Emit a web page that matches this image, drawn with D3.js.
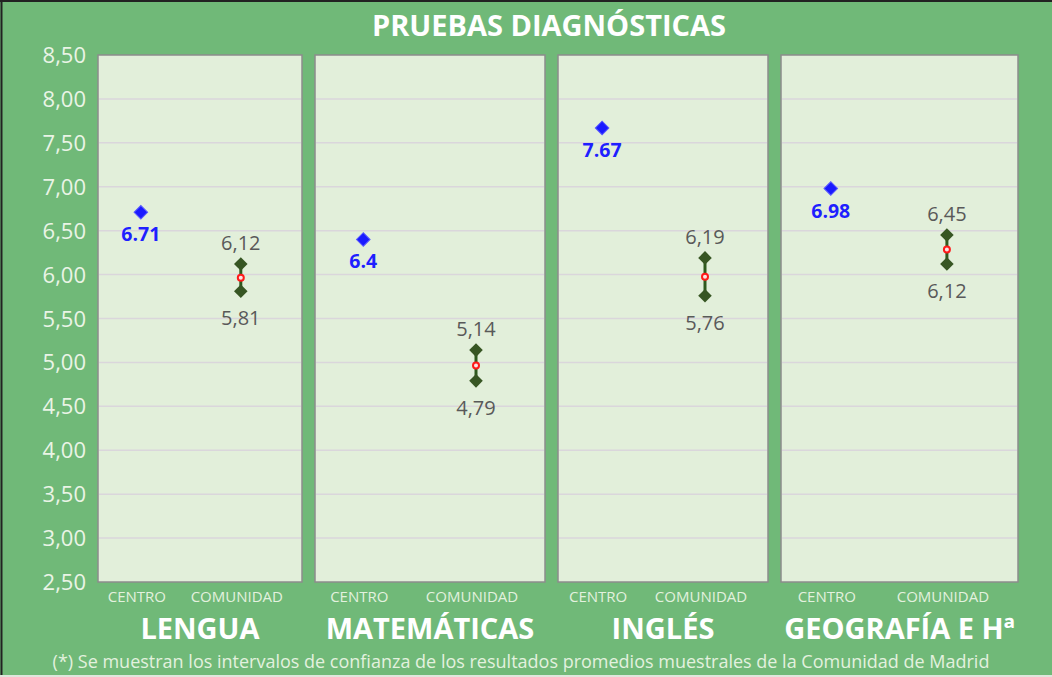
<!DOCTYPE html>
<html>
<head>
<meta charset="utf-8">
<script src="https://cdn.jsdelivr.net/npm/d3@7"></script>
<style>
body{margin:0;background:#fff;}
svg{display:block;font-family:"Open Sans","Noto Sans",sans-serif;}
</style>
</head>
<body>
<svg></svg>
<script>
//data
var subjects = ["LENGUA","MATEMÁTICAS","INGLÉS","GEOGRAFÍA E Hª"];
var groups = ["CENTRO","COMUNIDAD"];
var centro = [6.71,6.40,7.67,6.98];
var centroLabels = ["6.71","6.4","7.67","6.98"];
var comunidadHigh = [6.12,5.14,6.19,6.45];
var comunidadLow = [5.81,4.79,5.76,6.12];
var highLabels = ["6,12","5,14","6,19","6,45"];
var lowLabels = ["5,81","4,79","5,76","6,12"];
var yTicks = [2.5,3,3.5,4,4.5,5,5.5,6,6.5,7,7.5,8,8.5];

var screen = {width:1052,height:677}
var plot = {top:55,bottom:582}
//left/right edges of the four panels
var panelEdges = [[98,302],[315,545],[558,768],[781,1018]]

var svg = d3.select("svg")
    .attr("width",screen.width)
    .attr("height",screen.height)

var yScale = d3.scaleLinear()
    .domain([2.5,8.5])
    .range([plot.bottom,plot.top])

var diamond = d3.symbol().type(d3.symbolSquare).size(92)

//background
svg.append("rect")
    .attr("width",screen.width)
    .attr("height",screen.height)
    .attr("fill","#70b978")
svg.append("line")
    .attr("x1",0).attr("x2",screen.width).attr("y1",1).attr("y2",1)
    .attr("stroke","#222").attr("stroke-width",2)
svg.append("line")
    .attr("x1",1.5).attr("x2",1.5).attr("y1",0).attr("y2",screen.height)
    .attr("stroke","#222").attr("stroke-width",2)
svg.append("line")
    .attr("x1",0).attr("x2",screen.width).attr("y1",676).attr("y2",676)
    .attr("stroke","#dfe6dc").attr("stroke-width",2)

svg.append("text")
    .text("PRUEBAS DIAGNÓSTICAS")
    .attr("x",549).attr("y",36)
    .attr("text-anchor","middle")
    .attr("fill","#ffffff")
    .attr("font-weight","bold")
    .attr("font-size",29)

//y labels
svg.append("g").selectAll("text")
    .data(yTicks)
    .enter()
    .append("text")
    .text(function(d){return d3.format(".2f")(d).replace(".",",")})
    .attr("x",86)
    .attr("y",function(d){return yScale(d)+8})
    .attr("text-anchor","end")
    .attr("fill","#eaf4e6")
    .attr("font-size",22)

var drawPanel = function(i)
{
    var x0 = panelEdges[i][0], x1 = panelEdges[i][1], w = x1-x0
    var xScale = d3.scalePoint()
        .domain(groups)
        .range([x0+w*0.21,x0+w*0.70])
    var g = svg.append("g")

    g.append("rect")
        .attr("x",x0).attr("y",plot.top)
        .attr("width",w).attr("height",plot.bottom-plot.top)
        .attr("fill","#e2efda")
        .attr("stroke","#8c8c8c")
        .attr("stroke-width",1.5)

    g.selectAll(".grid")
        .data(yTicks.slice(1,-1))
        .enter()
        .append("line")
        .attr("x1",x0+1).attr("x2",x1-1)
        .attr("y1",function(d){return yScale(d)})
        .attr("y2",function(d){return yScale(d)})
        .attr("stroke","#dad6db")
        .attr("stroke-width",1.5)

    //category labels under the panel
    g.selectAll(".cat")
        .data(groups)
        .enter()
        .append("text")
        .text(function(d){return d})
        .attr("x",function(d){return xScale(d)-4})
        .attr("y",602)
        .attr("text-anchor","middle")
        .attr("fill","#e3f1df")
        .attr("font-size",15)

    g.append("text")
        .text(subjects[i])
        .attr("x",(x0+x1)/2)
        .attr("y",639)
        .attr("text-anchor","middle")
        .attr("fill","#ffffff")
        .attr("font-weight","bold")
        .attr("font-size",29)

    //centro point
    var cx = xScale("CENTRO")
    g.append("path")
        .attr("d",diamond)
        .attr("transform","translate("+cx+","+yScale(centro[i])+") rotate(45)")
        .attr("fill","#1a1aff")
        .attr("stroke","#5a5aff")
    g.append("text")
        .text(centroLabels[i])
        .attr("x",cx).attr("y",yScale(centro[i])+29)
        .attr("text-anchor","middle")
        .attr("fill","#1f1fff")
        .attr("font-weight","bold")
        .attr("font-size",19.5)

    //comunidad interval
    var mx = xScale("COMUNIDAD")
    var hi = comunidadHigh[i], lo = comunidadLow[i]
    g.append("line")
        .attr("x1",mx).attr("x2",mx)
        .attr("y1",yScale(hi)).attr("y2",yScale(lo))
        .attr("stroke","#2f5a1e").attr("stroke-width",3)
    g.selectAll(".dm")
        .data([hi,lo])
        .enter()
        .append("path")
        .attr("d",diamond)
        .attr("transform",function(d){return "translate("+mx+","+yScale(d)+") rotate(45)"})
        .attr("fill","#375623")
    g.append("circle")
        .attr("cx",mx).attr("cy",yScale((hi+lo)/2))
        .attr("r",3)
        .attr("fill","#fbe3e3")
        .attr("stroke","#ff1a1a")
        .attr("stroke-width",2)
    g.append("text")
        .text(highLabels[i])
        .attr("x",mx).attr("y",yScale(hi)-14)
        .attr("text-anchor","middle")
        .attr("fill","#595959")
        .attr("font-size",20)
    g.append("text")
        .text(lowLabels[i])
        .attr("x",mx).attr("y",yScale(lo)+34)
        .attr("text-anchor","middle")
        .attr("fill","#595959")
        .attr("font-size",20)
}

subjects.forEach(function(s,i){drawPanel(i)})

svg.append("text")
    .text("(*) Se muestran los intervalos de confianza de los resultados promedios muestrales de la Comunidad de Madrid")
    .attr("x",521).attr("y",668)
    .attr("text-anchor","middle")
    .attr("fill","#e3f1df")
    .attr("font-size",18)
</script>
</body>
</html>
